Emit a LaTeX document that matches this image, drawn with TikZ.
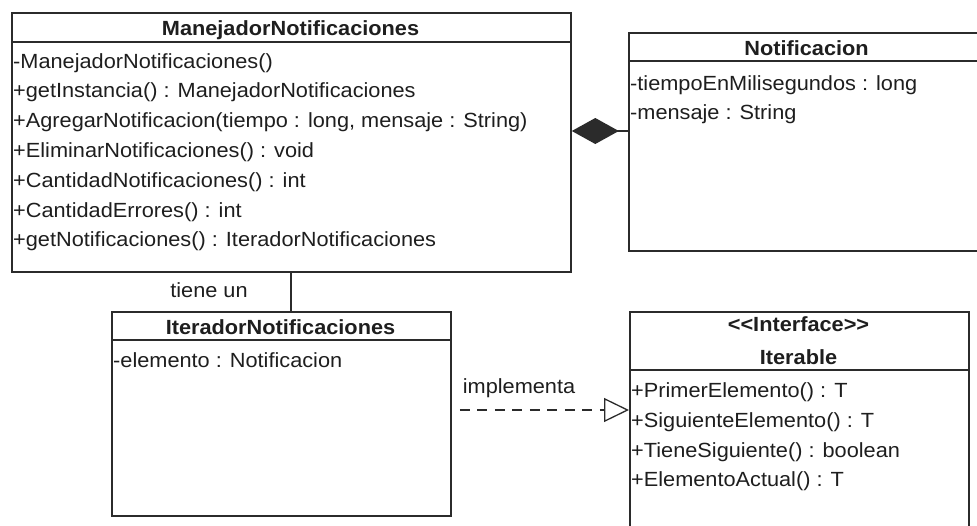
\documentclass[tikz,border=0pt]{standalone}
\usepackage{fontspec}
\setmainfont{Liberation Sans}[FakeStretch=1.06]
\usetikzlibrary{arrows.meta}
\definecolor{umlline}{HTML}{2B2B2B}
\definecolor{umltext}{HTML}{1E1E1E}

\begin{document}
\begin{tikzpicture}[x=1pt,y=-1pt,
  classbox/.style={draw=umlline, line width=1.8pt, rectangle, inner sep=0pt, anchor=north west},
  sepline/.style={draw=umlline, line width=1.6pt},
  member/.style={anchor=base west, inner sep=0pt, font=\fontsize{20.5}{24}\selectfont, text=umltext},
  classname/.style={anchor=base, inner sep=0pt, font=\fontsize{20.5}{24}\selectfont\bfseries, text=umltext},
  linklabel/.style={anchor=base, inner sep=0pt, font=\fontsize{20.5}{24}\selectfont, text=umltext},
  link/.style={draw=umlline, line width=1.3pt}]

% canvas
\useasboundingbox (0,0) rectangle (977,525);
\fill[white] (0,0) rectangle (977,525);
\clip (0,0) rectangle (977,525);

% ---- ManejadorNotificaciones ----
\node[classbox, minimum width=559pt, minimum height=259pt] (man) at (11,12) {};
\draw[sepline] (11,42) -- (570,42);
\node[classname] (manT) at (290.5,35) {ManejadorNotificaciones};
\node[member] (man1) at (13,68)    {-ManejadorNotificaciones()};
\node[member] (man2) at (13,97.8)  {+getInstancia() : ManejadorNotificaciones};
\node[member] (man3) at (13,127.6) {+AgregarNotificacion(tiempo : long, mensaje : String)};
\node[member] (man4) at (13,157.4) {+EliminarNotificaciones() : void};
\node[member] (man5) at (13,187.2) {+CantidadNotificaciones() : int};
\node[member] (man6) at (13,217)   {+CantidadErrores() : int};
\node[member] (man7) at (13,246.8) {+getNotificaciones() : IteradorNotificaciones};

% ---- Notificacion ----
\node[classbox, minimum width=357pt, minimum height=218pt] (notif) at (628,32) {};
\draw[sepline] (628,61) -- (985,61);
\node[classname] (notifT) at (806.5,55) {Notificacion};
\node[member] (notif1) at (630,90)  {-tiempoEnMilisegundos : long};
\node[member] (notif2) at (630,119) {-mensaje : String};

% ---- IteradorNotificaciones ----
\node[classbox, minimum width=339pt, minimum height=204pt] (iter) at (111,311) {};
\draw[sepline] (111,340) -- (450,340);
\node[classname] (iterT) at (280.5,334) {IteradorNotificaciones};
\node[member] (iter1) at (113,367) {-elemento : Notificacion};

% ---- Iterable ----
\node[classbox, minimum width=339pt, minimum height=250pt] (itb) at (629,311) {};
\draw[sepline] (629,370) -- (968,370);
\node[classname] (itbS) at (798.5,331) {<\kern0pt<Interface>\kern0pt>};
\node[classname] (itbT) at (798.5,364) {Iterable};
\node[member] (itb1) at (631,397) {+PrimerElemento() : T};
\node[member] (itb2) at (631,427) {+SiguienteElemento() : T};
\node[member] (itb3) at (631,457) {+TieneSiguiente() : boolean};
\node[member] (itb4) at (631,486) {+ElementoActual() : T};

% ---- relations ----
% composition: Manejador owns Notificacion
\draw[link, {Diamond[length=47pt, width=26pt, fill=umlline]}-]
  (man.east |- 0,131) -- (notif.west |- 0,131);

% association
\draw[link] (man.south -| 291,0) -- (iter.north -| 291,0);
\node[linklabel] (assocL) at (209,297) {tiene un};

% realization
\draw[link, dash pattern=on 10pt off 7.5pt, shorten <=8pt,
      -{Triangle[open, length=25pt, width=24pt]}]
  (iter.east |- 0,410) -- (itb.west |- 0,410);
\node[linklabel] (implL) at (519,393) {implementa};
\end{tikzpicture}
\end{document}
